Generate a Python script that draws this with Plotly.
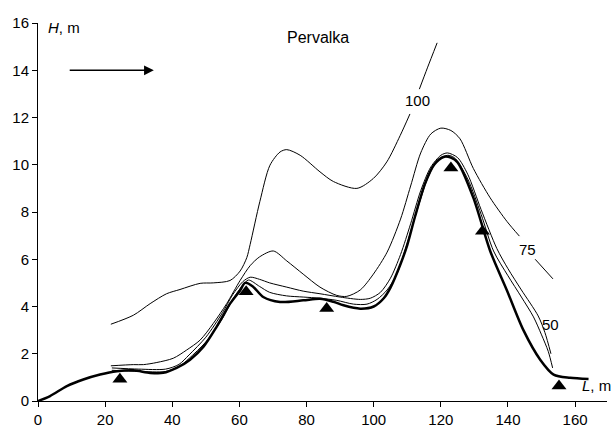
import plotly.graph_objects as go

# Bed profile (thick)
bed_x = [0, 3.6, 8.6, 13.5, 18.5, 23.5, 28.4, 33.4, 37.3, 41.3, 45.3, 49.3, 53.2, 57.2, 60.2, 61.7, 64, 67.1,
         72.1, 79, 84, 88, 91, 96, 100, 103, 105, 108, 110, 112.3, 115.3, 118, 120.8, 123, 125, 129.7, 134.7,
         139.7, 144.6, 149.6, 153.6, 158.5, 164]
bed_y = [0, 0.21, 0.63, 0.91, 1.12, 1.26, 1.3, 1.19, 1.19, 1.4, 1.75, 2.3, 3.14, 4.12, 4.68, 5.0, 4.85, 4.4,
         4.19, 4.26, 4.33, 4.2, 4.05, 3.91, 4.0, 4.35, 4.8, 5.8, 6.6, 7.8, 9.2, 10.0, 10.33, 10.3, 10.1, 8.6, 6.35,
         4.68, 3.0, 1.75, 1.12, 0.98, 0.93]

# Water levels (thin)
l25_x = [22, 30, 38, 42, 45, 50, 55, 58, 61, 62.7, 66, 69, 74, 79, 84, 89, 94, 98, 101, 104, 107, 110, 113,
         116, 119, 122, 124, 128, 132, 135.7, 140, 144, 147.6, 150, 152, 153.3]
l25_y = [1.3, 1.25, 1.25, 1.45, 1.8, 2.5, 3.5, 4.3, 4.9, 5.12, 4.85, 4.6, 4.45, 4.4, 4.35, 4.26, 4.1, 4.1, 4.3,
         4.7, 5.4, 6.7, 8.1, 9.4, 10.2, 10.4, 10.3, 9.4, 7.9, 6.35, 5.3, 4.4, 3.56, 2.8, 2.1, 1.4]

l50_x = [22, 30, 38, 42, 45, 50, 55, 58, 61, 63.2, 66, 69, 74.1, 79, 84, 90, 96, 99, 102, 105, 108, 111, 114,
         117, 120, 122, 125, 128, 132, 136.7, 140, 144, 149, 151, 152.8]
l50_y = [1.4, 1.35, 1.35, 1.55, 1.95, 2.7, 3.75, 4.5, 5.05, 5.24, 5.15, 5.0, 4.82, 4.65, 4.54, 4.4, 4.3, 4.35,
         4.6, 5.2, 6.2, 7.5, 8.9, 9.9, 10.4, 10.5, 10.3, 9.6, 8.1, 6.45, 5.6, 4.7, 3.6, 2.9, 2.0]

l75_x = [21.7, 28.4, 31.4, 35.4, 40.3, 44.3, 48.3, 52.2, 56.2, 60.2, 63.2, 66, 70.1, 74.1, 79, 84, 89, 92, 96,
         99.9, 104, 108, 111, 114, 117, 120, 123, 125.7, 129.7, 134.7, 139.7, 143.4, None, 148.1, 153.4]
l75_y = [1.49, 1.54, 1.54, 1.63, 1.81, 2.16, 2.58, 3.28, 4.12, 5.1, 5.73, 6.1, 6.35, 5.93, 5.37, 4.82, 4.47,
         4.43, 4.7, 5.37, 6.3, 7.7, 9.1, 10.5, 11.3, 11.55, 11.45, 11.1, 9.84, 8.6, 7.6, 6.98, None, 6.0, 5.17]

l100_x = [21.7, 28.4, 33.4, 38.3, 42.3, 48.3, 52.2, 57.2, 60.2, 62.2, 63.2, 66.1, 69.1, 72.1, 74.1, 78.1, 84,
          88, 95, 99.9, 103.9, 107.9, 110.8, None, 113.6, 116, 118.9]
l100_y = [3.25, 3.63, 4.12, 4.54, 4.72, 4.98, 5.0, 5.1, 5.5, 6.07, 6.63, 8.45, 9.98, 10.54, 10.64, 10.4, 9.7,
          9.29, 9.0, 9.42, 10.12, 11.24, 12.15, None, 13.2, 14.1, 15.16]

# Gauging stations (triangles)
st_x = [24.4, 62, 86, 123, 132.4, 155.2]
st_y = [0.92, 4.62, 3.92, 9.86, 7.18, 0.63]

# Curve labels
lab_text = ["100", "75", "50"]
lab_x = [113, 145.9, 152.6]
lab_y = [12.7, 6.42, 3.25]

FONT = "Arial, Liberation Sans, sans-serif"
fig = go.Figure()
for xs, ys in [(l100_x, l100_y), (l75_x, l75_y), (l50_x, l50_y), (l25_x, l25_y)]:
    fig.add_trace(go.Scatter(x=xs, y=ys, mode="lines", line=dict(color="black", width=1, shape="spline", smoothing=0.8),
                             connectgaps=False, showlegend=False, hoverinfo="skip"))
fig.add_trace(go.Scatter(x=bed_x, y=bed_y, mode="lines", line=dict(color="black", width=2.5, shape="spline", smoothing=0.8),
                         showlegend=False, hoverinfo="skip"))
fig.add_trace(go.Scatter(x=st_x, y=st_y, mode="markers", marker=dict(symbol="triangle-up", size=13, color="black"),
                         showlegend=False, hoverinfo="skip"))

for t, x, y in zip(lab_text, lab_x, lab_y):
    fig.add_annotation(x=x, y=y, text=t, showarrow=False, font=dict(family=FONT, size=15, color="black"))

fig.add_annotation(x=83.5, y=15.4, text="Pervalka", showarrow=False, font=dict(family=FONT, size=16, color="black"))
fig.add_annotation(x=2.4, y=15.83, text="<i>H</i>, m", showarrow=False, xanchor="left",
                   font=dict(family=FONT, size=15, color="black"))
fig.add_annotation(x=161.5, y=0.65, text="<i>L</i>, m", showarrow=False, xanchor="left",
                   font=dict(family=FONT, size=15, color="black"))
fig.add_annotation(x=34.5, y=14, ax=9, ay=14, xref="x", yref="y", axref="x", ayref="y", text="",
                   showarrow=True, arrowhead=2, arrowsize=1.3, arrowwidth=1.5, arrowcolor="black")

fig.update_layout(
    width=616, height=437,
    margin=dict(l=38, r=9, t=23, b=32),
    paper_bgcolor="white", plot_bgcolor="white",
    font=dict(family=FONT, size=15, color="black"),
)
fig.update_xaxes(range=[0, 169.5], tickvals=list(range(0, 161, 20)), showline=True, linecolor="black", linewidth=1,
                 ticks="outside", ticklen=5, tickcolor="black", showgrid=False, zeroline=False)
fig.update_yaxes(range=[0, 16], tickvals=list(range(0, 17, 2)), showline=True, linecolor="black", linewidth=1,
                 ticks="outside", ticklen=5, tickcolor="black", showgrid=False, zeroline=False)

fig.write_html("out.html")
